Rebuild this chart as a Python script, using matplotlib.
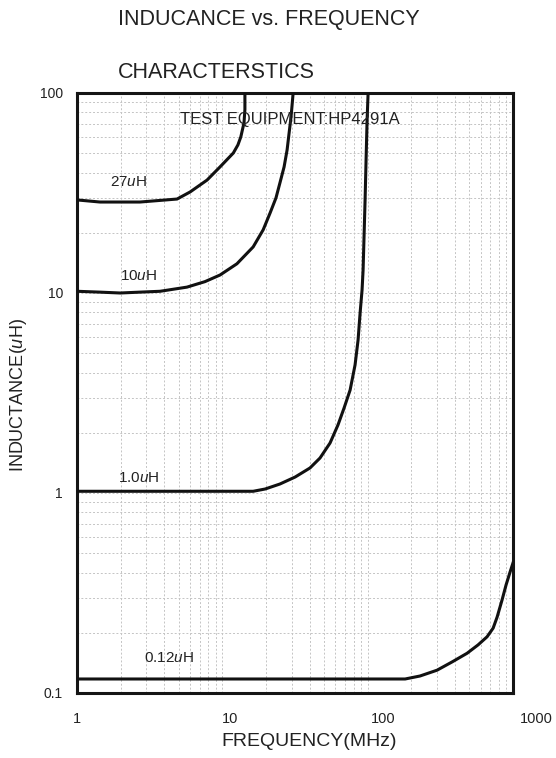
import numpy as np
import matplotlib
matplotlib.use("Agg")
import matplotlib.pyplot as plt

plt.rcParams["font.family"] = ["Liberation Sans", "DejaVu Sans"]
plt.rcParams["mathtext.fontset"] = "custom"
plt.rcParams["mathtext.rm"] = "Liberation Sans"
plt.rcParams["mathtext.it"] = "Liberation Sans:italic"

# curves: frequency (MHz), inductance (uH)
f_27 = [1.0, 1.44, 2.71, 4.88, 6.0, 7.85, 9.64, 11.9, 12.8, 13.4, 14.1, 14.3, 14.3]
L_27 = [29.2, 28.5, 28.5, 29.5, 32.0, 36.7, 42.7, 50.1, 55.0, 60.3, 71.0, 82.8, 100.0]

f_10 = [1.0, 1.44, 1.98, 2.71, 3.73, 5.71, 7.60, 9.64, 12.6, 16.3, 19.1, 21.3,
        23.4, 24.9, 26.6, 27.9, 28.8, 29.7, 30.2, 30.7]
L_10 = [10.2, 10.1, 10.0, 10.1, 10.2, 10.7, 11.4, 12.3, 14.0, 17.0, 20.7, 25.1,
        29.9, 35.5, 42.7, 51.9, 63.1, 75.9, 87.1, 100.0]

f_1 = [1.0, 16.3, 19.7, 24.9, 31.7, 40.1, 47.0, 55.1, 62.5, 68.8, 75.7, 81.9,
       85.9, 88.7, 91.5, 93.0, 96.0, 97.5, 99.1, 100.7]
L_1 = [1.02, 1.02, 1.047, 1.109, 1.202, 1.334, 1.496, 1.778, 2.19, 2.66, 3.27,
       4.37, 5.82, 7.94, 10.35, 13.0, 29.2, 46.2, 73.3, 100.0]

f_012 = [1.0, 181, 229, 300, 381, 483, 575, 663, 730, 778, 841, 896, 955, 1000]
L_012 = [0.1175, 0.1175, 0.1216, 0.130, 0.143, 0.158, 0.174, 0.191, 0.211,
         0.240, 0.292, 0.347, 0.403, 0.447]

curve_labels = ["27$\\it{u}$H", "10$\\it{u}$H", "1.0$\\it{u}$H", "0.12$\\it{u}$H"]
label_pos = [(1.69, 35.9), (1.98, 12.2), (1.92, 1.19), (2.89, 0.150)]

x_ticks = [1, 10, 100, 1000]
y_ticks = [0.1, 1, 10, 100]
y_ticklabels = ["0.1", "1", "10", "100"]

fig = plt.figure(figsize=(5.56, 7.58), dpi=100)
ax = fig.add_axes([77 / 556, 1 - 693 / 758, 436 / 556, 600 / 758])
ax.set_xscale("log")
ax.set_yscale("log")
ax.set_xlim(1, 1000)
ax.set_ylim(0.1, 100)

# dotted grid at 1..9 of every decade
grid_kw = dict(color="#c4c4c4", lw=0.7, ls=(0, (2, 2)), zorder=1)
steps = [m * 10.0 ** k for k in range(-1, 3) for m in range(1, 10)]
for v in steps:
    if 1 < v < 1000:
        ax.axvline(v, **grid_kw)
    if 0.1 < v < 100:
        ax.axhline(v, **grid_kw)

for fx, ly in [(f_27, L_27), (f_10, L_10), (f_1, L_1), (f_012, L_012)]:
    ax.plot(fx, ly, color="#111111", lw=2.2, solid_joinstyle="round", zorder=3)

for txt, (px, py) in zip(curve_labels, label_pos):
    ax.text(px, py, txt, fontsize=11, va="center", ha="left", color="#222222")
ax.text(5.12, 73.3, "TEST EQUIPMENT:HP4291A", fontsize=12, va="center",
        ha="left", color="#222222")

for s in ax.spines.values():
    s.set_linewidth(2.2)
    s.set_color("#151515")

ax.set_xticks(x_ticks)
ax.set_xticklabels([])
ax.minorticks_off()
ax.tick_params(axis="x", length=0)
ax.set_yticks(y_ticks)
ax.set_yticklabels(y_ticklabels, fontsize=10, color="#222222")
ax.tick_params(axis="y", length=0, pad=10)

# x tick labels drift right in the original print
for i, v in enumerate(x_ticks):
    ax.annotate(str(v), xy=(v, 0), xycoords=("data", "axes fraction"),
                xytext=(i * 5.5, -14), textcoords="offset points",
                ha="center", va="top", fontsize=10.5, color="#222222",
                annotation_clip=False)

fig.text(309 / 556, 1 - 742 / 758, "FREQUENCY(MHz)", fontsize=14,
         ha="center", va="center", color="#222222")
fig.text(19 / 556, 1 - 395 / 758, "INDUCTANCE($\\it{u}$H)", fontsize=13,
         ha="center", va="center", rotation=90, color="#222222")
fig.text(118 / 556, 1 - 20 / 758, "INDUCANCE vs. FREQUENCY", fontsize=15.5,
         ha="left", va="center", color="#222222")
fig.text(118 / 556, 1 - 72 / 758, "CHARACTERSTICS", fontsize=15.5,
         ha="left", va="center", color="#222222")

fig.savefig("out.png", dpi=100)
